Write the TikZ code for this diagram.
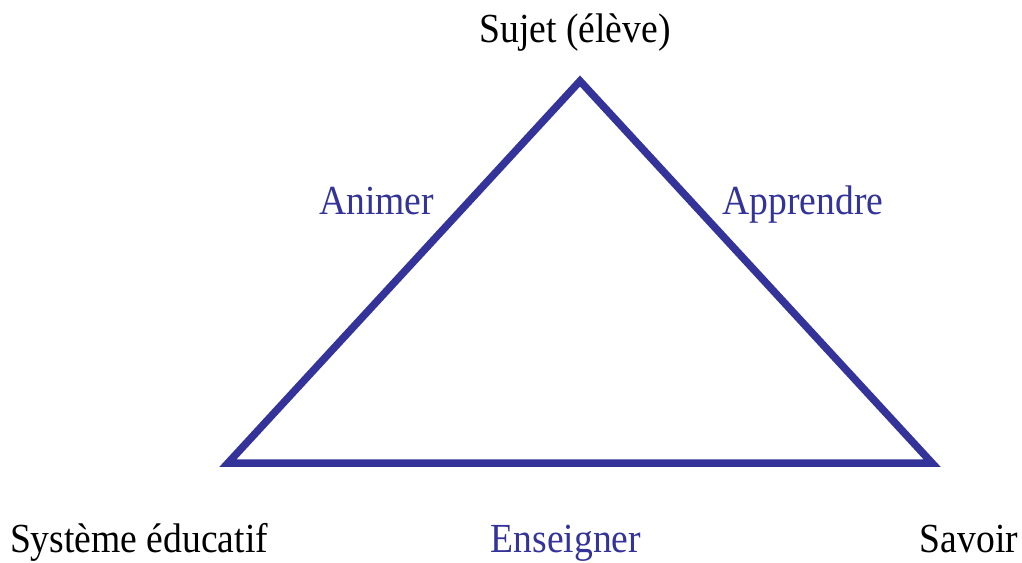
\documentclass[tikz,border=0pt]{standalone}
\usepackage{fontspec}
\setmainfont{Liberation Serif}
\definecolor{triblue}{RGB}{51,51,153}
\newcommand{\etire}[1]{\scalebox{1}[1.1]{#1}}
\tikzset{
  pole/.style={anchor=base, font=\fontsize{37.6}{44}\selectfont, text=black, inner sep=0pt},
  action/.style={pole, text=triblue},
  side/.style={draw=triblue, line width=7.5pt, line join=miter}
}
\begin{document}
\begin{tikzpicture}[x=1pt, y=-1pt]
  \useasboundingbox (0,0) rectangle (1022,562);

  % sommets du triangle
  \coordinate (eleve) at (580,81);
  \coordinate (systeme) at (228,463);
  \coordinate (savoir) at (932,463);

  % triangle
  \draw[side] (eleve) -- (savoir) -- (systeme) -- cycle;

  % pôles
  \node[pole] (sujet) at (575,42) {\etire{Sujet (élève)}};
  \node[pole] (educ) at (139,552) {\etire{Système éducatif}};
  \node[pole] (sav) at (969,552) {\etire{Savoir}};

  % processus
  \node[action] (animer) at (376.5,214) {\etire{Animer}};
  \node[action] (apprendre) at (803,214) {\etire{Apprendre}};
  \node[action] (enseigner) at (566,552) {\etire{Enseigner}};

\end{tikzpicture}
\end{document}
